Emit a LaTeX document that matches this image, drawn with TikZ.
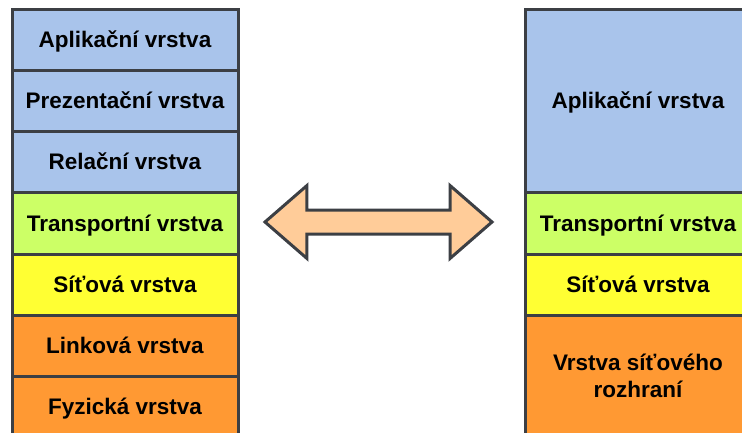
\documentclass[tikz,border=0pt]{standalone}
\usepackage{fontspec}
\setmainfont{Liberation Sans}
\usepackage{tikz}
\usetikzlibrary{positioning,shapes.arrows}
\definecolor{edgegray}{HTML}{3C3F44}
\definecolor{appblue}{HTML}{A9C4EB}
\definecolor{transgreen}{HTML}{CCFF66}
\definecolor{netyellow}{HTML}{FFFF33}
\definecolor{linkorange}{HTML}{FF9933}
\definecolor{peach}{HTML}{FFCC99}

\begin{document}
\begin{tikzpicture}[x=1pt, y=-1pt, node distance=0pt, layer/.style={rectangle,draw=edgegray,line width=3pt,outer sep=0pt,inner sep=2pt,minimum width=226pt,minimum height=61pt,text height=20pt,text depth=5pt,align=center,font=\fontsize{22.5}{27}\selectfont\bfseries}, swap/.style={double arrow,draw=edgegray,fill=peach,line width=3pt,inner xsep=0pt,inner ysep=10.5pt,double arrow head extend=24.5pt,double arrow tip angle=82,minimum height=227pt}]
\useasboundingbox (0,0) rectangle (742,433);
\clip (0,0) rectangle (742,433);
% OSI model
\node[layer,fill=appblue] (app) at (125,40.5) {Aplikační vrstva};
\node[layer,fill=appblue,below=of app] (pres) {Prezentační vrstva};
\node[layer,fill=appblue,below=of pres] (sess) {Relační vrstva};
\node[layer,fill=transgreen,below=of sess] (trans) {Transportní vrstva};
\node[layer,fill=netyellow,below=of trans] (net) {Síťová vrstva};
\node[layer,fill=linkorange,below=of net] (link) {Linková vrstva};
\node[layer,fill=linkorange,below=of link] (phys) {Fyzická vrstva};
% TCP/IP model
\node[layer,fill=appblue,minimum height=183pt] (tapp) at (638,101.5) {Aplikační vrstva};
\node[layer,fill=transgreen,below=of tapp] (ttrans) {Transportní vrstva};
\node[layer,fill=netyellow,below=of ttrans] (tnet) {Síťová vrstva};
\node[layer,fill=linkorange,minimum height=122pt,text height=47pt,below=of tnet] (tlink) {Vrstva síťového\\rozhraní};
% arrow between
\node[swap] (map) at (378.5,222) {};
\end{tikzpicture}
\end{document}
